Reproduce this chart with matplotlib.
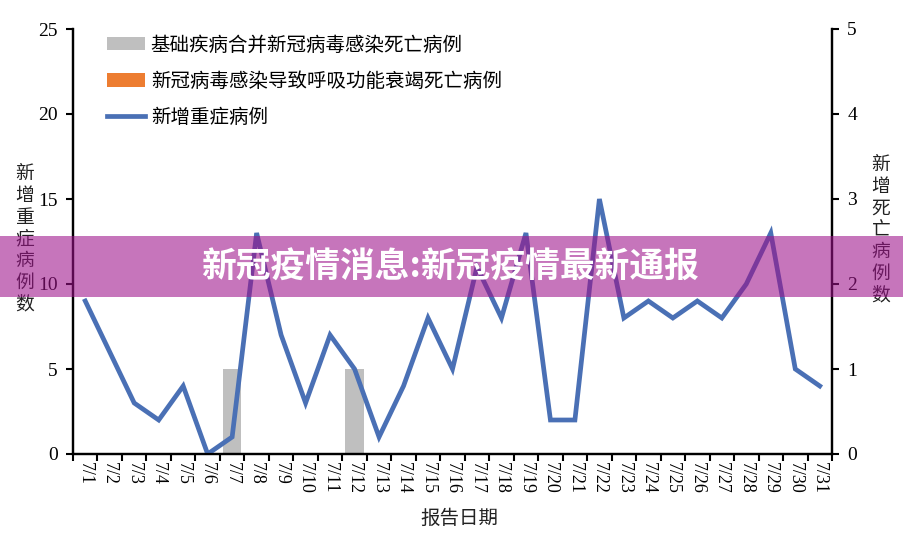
import matplotlib.pyplot as plt
import numpy as np

plt.rcParams['font.family'] = ['Liberation Serif', 'Noto Sans CJK SC', 'DejaVu Sans']

# Data
dates = ['7/%d' % d for d in range(1, 32)]
severe = [9, 6, 3, 2, 4, 0, 1, 13, 7, 3, 7, 5, 1, 4, 8, 5, 11, 8, 13, 2, 2,
          15, 8, 9, 8, 9, 8, 10, 13, 5, 4]
death_underlying = [0, 0, 0, 0, 0, 0, 1, 0, 0, 0, 0, 1, 0, 0, 0, 0, 0, 0, 0, 0,
                    0, 0, 0, 0, 0, 0, 0, 0, 0, 0, 0]
death_resp = [0] * 31

x = np.arange(len(dates))
cjk = ['Noto Sans CJK SC', 'DejaVu Sans']

fig = plt.figure(figsize=(9.04, 5.34), dpi=100)
ax = fig.add_axes([73 / 904, 80 / 534, 759 / 904, 425 / 534])
ax2 = ax.twinx()

# Bars on the right (deaths) axis
b1 = ax2.bar(x, death_underlying, width=0.76, color='#BFBFBF',
             label='基础疾病合并新冠病毒感染死亡病例')
b2 = ax2.bar(x, death_resp, width=0.76, color='#ED7D31',
             label='新冠病毒感染导致呼吸功能衰竭死亡病例')
ax2.set_ylim(0, 5)

# Line on the left (severe) axis, drawn above the bars
l1, = ax.plot(x, severe, color='#4A70B5', lw=3.4, solid_joinstyle='miter',
              label='新增重症病例')
ax.set_zorder(ax2.get_zorder() + 1)
ax.patch.set_visible(False)
ax.set_ylim(0, 25)
ax.set_xlim(-0.5, len(dates) - 0.5)

# Excel-like ticks between categories
ax.set_xticks(np.arange(-0.5, len(dates)), labels=[])
ax.set_xticks(x, labels=dates, minor=True, rotation=270, fontsize=13)
ax.tick_params(axis='x', which='major', direction='out', length=5, width=1.5)
ax.tick_params(axis='x', which='minor', length=0, pad=6)
ax.set_yticks([0, 5, 10, 15, 20, 25])
ax.tick_params(axis='y', direction='out', length=5, width=1.5, labelsize=14, pad=6)
ax2.set_yticks([0, 1, 2, 3, 4, 5])
ax2.tick_params(axis='y', direction='out', length=5, width=1.5, labelsize=14, pad=6)

for a in (ax, ax2):
    a.spines['top'].set_visible(False)
    for s in ('left', 'right', 'bottom'):
        a.spines[s].set_linewidth(1.6)

# Axis labels (stacked vertical characters)
fig.text(25 / 904, 1 - 239 / 534, '\n'.join('新增重症病例数'), fontsize=13.5,
         ha='center', va='center', linespacing=1.05, color='#222222', family=cjk)
fig.text(881 / 904, 1 - 230 / 534, '\n'.join('新增死亡病例数'), fontsize=13.5,
         ha='center', va='center', linespacing=1.05, color='#222222', family=cjk)
fig.text(459 / 904, 1 - 518 / 534, '报告日期', fontsize=14, ha='center',
         va='center', color='#222222', family=cjk)

leg = ax.legend(handles=[b1, b2, l1], loc='upper left',
                bbox_to_anchor=(0.032, 1.01), frameon=False, borderpad=0,
                handlelength=1.95, handletextpad=0.3, labelspacing=0.78,
                prop={'family': cjk, 'size': 14})

# Overlay banner
fig.patches.append(plt.Rectangle((0, 1 - 297 / 534), 1, 61 / 534,
                                 transform=fig.transFigure, facecolor='#9D128A',
                                 edgecolor='none', lw=0, alpha=0.58, zorder=10))
fig.text(450 / 904, 1 - 267 / 534, '新冠疫情消息:新冠疫情最新通报', fontsize=25,
         fontweight='bold', color='white', ha='center', va='center', zorder=11,
         family=cjk)

fig.savefig('out.png', dpi=100)
